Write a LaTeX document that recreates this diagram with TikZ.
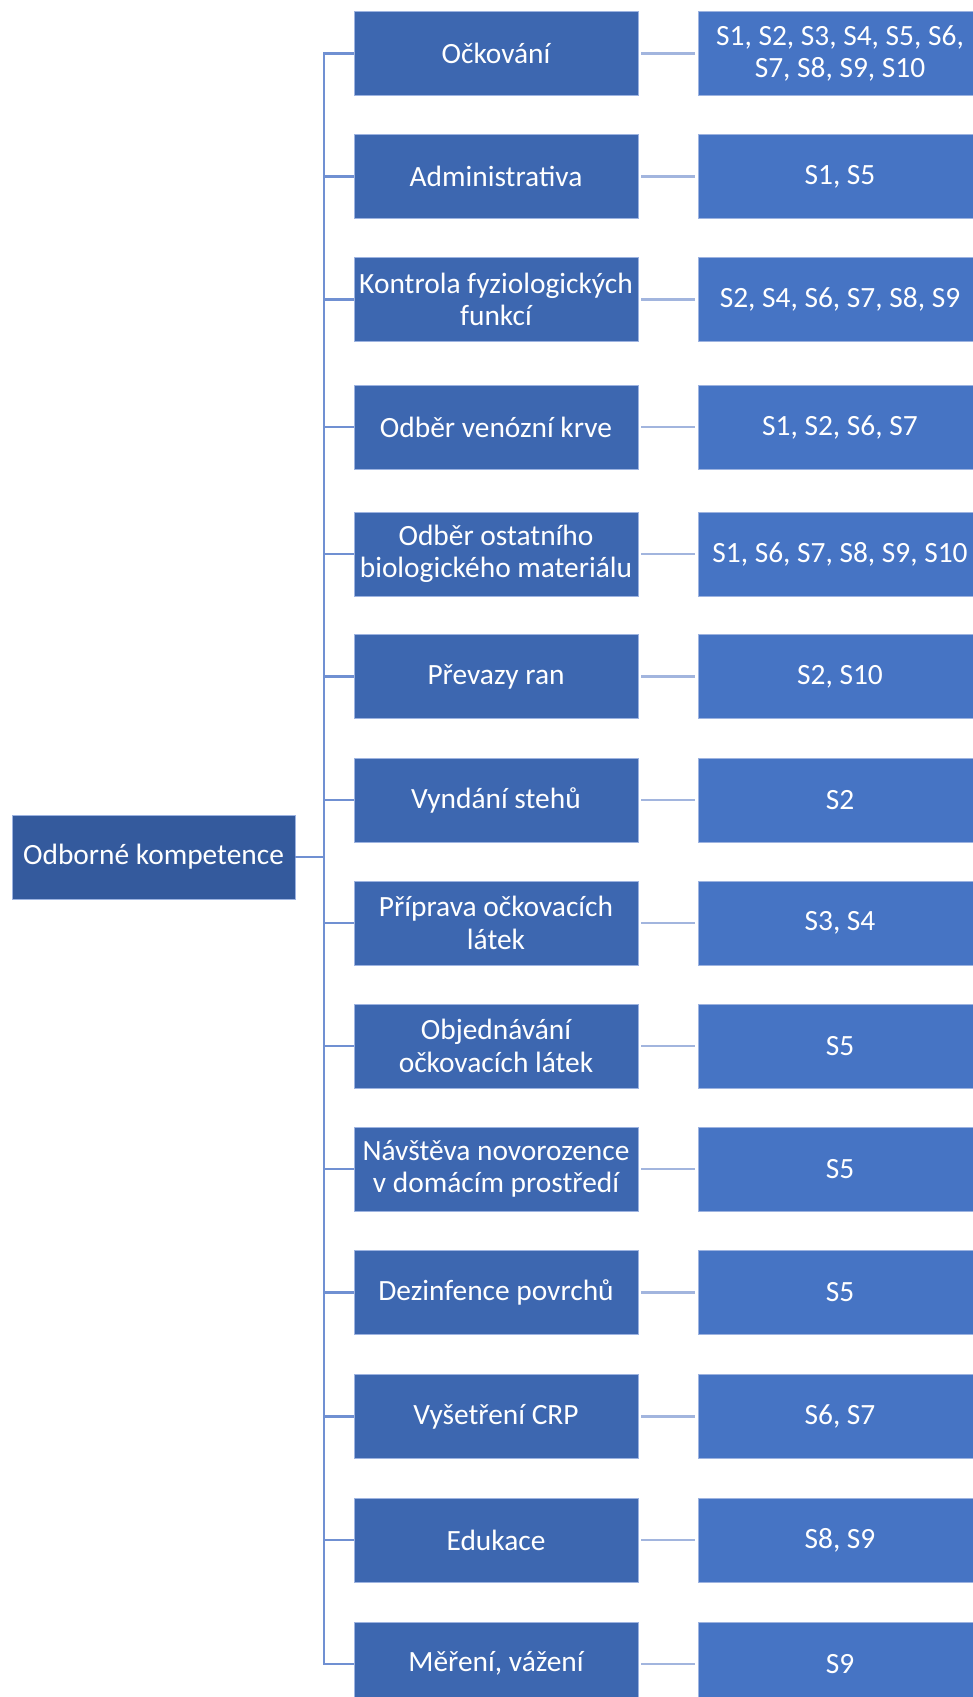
\documentclass[tikz,border=0pt]{standalone}
\usepackage{fontspec}
\setmainfont{Carlito}
\frenchspacing
\definecolor{rootc}{HTML}{345A9D}
\definecolor{lonec}{HTML}{3D67B0}
\definecolor{ltwoc}{HTML}{4674C4}
\definecolor{trunkc}{HTML}{7090D2}
\definecolor{linkc}{HTML}{A2B5DE}
\definecolor{edgec}{HTML}{9DB3E0}
\begin{document}
\begin{tikzpicture}[x=1pt,y=-1pt,
  box/.style={draw=edgec, line width=0.6pt, text=white, minimum height=84pt,
    minimum width=284pt, text width=281pt, inner sep=1.5pt, align=center,
    font=\fontsize{29.4}{32.5}\selectfont,
    execute at begin node={\spaceskip=0.226em\relax}},
  rootbox/.style={box, fill=rootc, minimum width=283pt, text width=280pt},
  lone/.style={box, fill=lonec},
  ltwo/.style={box, fill=ltwoc},
  trunkline/.style={draw=trunkc, line width=2.6pt},
  linkline/.style={draw=linkc, line width=2.6pt}]
\useasboundingbox (0,0) rectangle (973,1697);
\begin{scope}
\clip (0,0) rectangle (973,1697);
\node[rootbox] (root) at (153.5,857) {Odborné kompetence};
\coordinate (trunk) at (324,857);

\node[lone] (L1)  at (496,53.5)  {Očkování};
\node[lone] (L2)  at (496,176.7) {Administrativa};
\node[lone] (L3)  at (496,299.6) {Kontrola fyziologických\\funkcí};
\node[lone] (L4)  at (496,427)   {Odběr venózní krve};
\node[lone] (L5)  at (496,554)   {Odběr ostatního\\biologického materiálu};
\node[lone] (L6)  at (496,676.6) {Převazy ran};
\node[lone] (L7)  at (496,800)   {Vyndání stehů};
\node[lone] (L8)  at (496,923)   {Příprava očkovacích\\látek};
\node[lone] (L9)  at (496,1046)  {Objednávání\\očkovacích látek};
\node[lone] (L10) at (496,1169)  {Návštěva novorozence\\v domácím prostředí};
\node[lone] (L11) at (496,1292.5){Dezinfence povrchů};
\node[lone] (L12) at (496,1416.5){Vyšetření CRP};
\node[lone] (L13) at (496,1540)  {Edukace};
\node[lone] (L14) at (496,1663.8){Měření, vážení};

\node[ltwo] (R1)  at (840,53.5)  {S1, S2, S3, S4, S5, S6,\\S7, S8, S9, S10};
\node[ltwo] (R2)  at (840,176.7) {S1, S5};
\node[ltwo] (R3)  at (840,299.6) {S2, S4, S6, S7, S8, S9};
\node[ltwo] (R4)  at (840,427)   {S1, S2, S6, S7};
\node[ltwo] (R5)  at (840,554)   {S1, S6, S7, S8, S9, S10};
\node[ltwo] (R6)  at (840,676.6) {S2, S10};
\node[ltwo] (R7)  at (840,800)   {S2};
\node[ltwo] (R8)  at (840,923)   {S3, S4};
\node[ltwo] (R9)  at (840,1046)  {S5};
\node[ltwo] (R10) at (840,1169)  {S5};
\node[ltwo] (R11) at (840,1292.5){S5};
\node[ltwo] (R12) at (840,1416.5){S6, S7};
\node[ltwo] (R13) at (840,1540)  {S8, S9};
\node[ltwo] (R14) at (840,1663.8){S9};

\draw[trunkline] (root.east) -- (trunk);
\foreach \i in {1,...,14}{
  \draw[trunkline] (trunk) |- (L\i.west);
  \draw[linkline] ([xshift=3pt]L\i.east) -- ([xshift=-3pt]R\i.west);
}
\end{scope}
\end{tikzpicture}
\end{document}
